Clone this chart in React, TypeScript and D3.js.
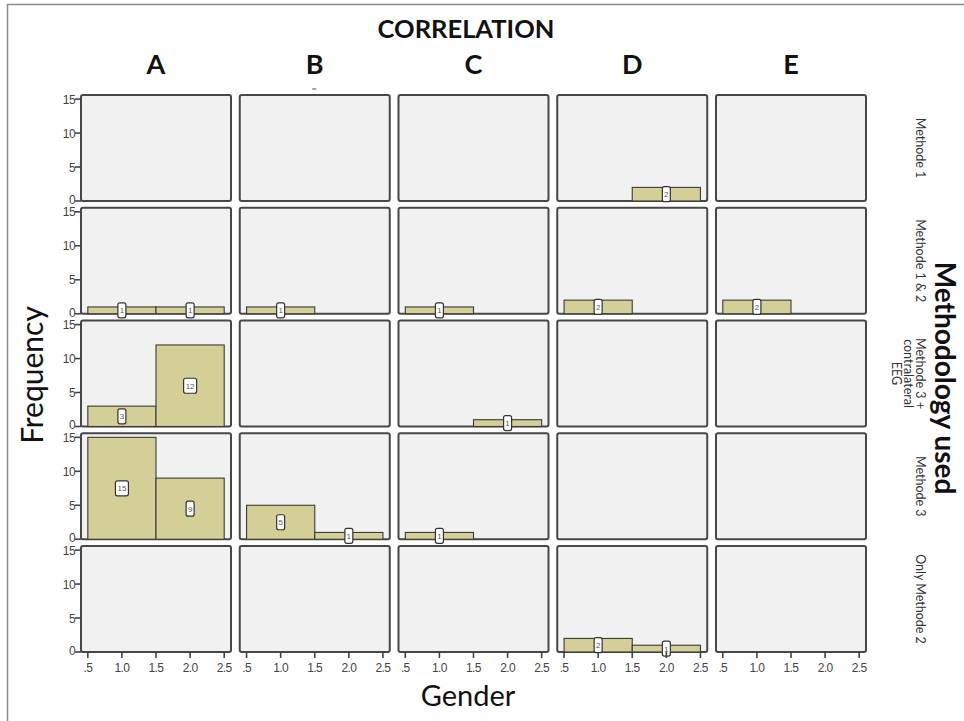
import React from "react";
import * as d3 from "d3";

const columns = ["A", "B", "C", "D", "E"];
const rows = ["Methode 1", "Methode 1 & 2", "Methode 3 + contralateral EEG", "Methode 3", "Only Methode 2"];
const rowLabelLines = [["Methode 1"], ["Methode 1 & 2"], ["Methode 3 +", "contralateral", "EEG"], ["Methode 3"], ["Only Methode 2"]];
const genderBins = [1, 2];
// counts[row][col] = [gender 1, gender 2]
const countsMethode1 = [[0, 0], [0, 0], [0, 0], [0, 2], [0, 0]];
const countsMethode12 = [[1, 1], [1, 0], [1, 0], [2, 0], [2, 0]];
const countsMethode3EEG = [[3, 12], [0, 0], [0, 1], [0, 0], [0, 0]];
const countsMethode3 = [[15, 9], [5, 1], [1, 0], [0, 0], [0, 0]];
const countsOnly2 = [[0, 0], [0, 0], [0, 0], [2, 1], [0, 0]];
const counts = [countsMethode1, countsMethode12, countsMethode3EEG, countsMethode3, countsOnly2];
const yTicks = [0, 5, 10, 15];
const xTicks = [0.5, 1.0, 1.5, 2.0, 2.5];
const xTickLabels = [".5", "1.0", "1.5", "2.0", "2.5"];

const W = 964;
const H = 721;
const titleFont = "Lato, 'Open Sans', sans-serif";
const axisFont = "'Liberation Sans', Arial, sans-serif";

export default function App() {
  const colScale = d3.scaleBand<string>().domain(columns).range([81, 866]).paddingInner(0.055);
  const rowScale = d3.scaleBand<string>().domain(rows).range([95, 652]).paddingInner(0.06);
  const bw = colScale.bandwidth();
  const bh = rowScale.bandwidth();

  return (
    <svg width={W} height={H} style={{ position: "absolute", left: 0, top: 0, background: "#fff" }}>
      <rect x={0} y={0} width={W} height={H} fill="#fff" />
      <path d={`M7.5,${H} V4.5 H${W}`} fill="none" stroke="#8a8a8a" strokeWidth={1.5} />
      <text x={466} y={38} textAnchor="middle" fontFamily={titleFont} fontWeight={700} fontSize={25.5} fill="#111">
        CORRELATION
      </text>
      {columns.map((c) => (
        <text key={c} x={colScale(c)! + bw / 2} y={74} textAnchor="middle" fontFamily={titleFont} fontWeight={700} fontSize={27} fill="#111">
          {c}
        </text>
      ))}
      <line x1={colScale("B")! + bw / 2 - 2.5} x2={colScale("B")! + bw / 2 + 1.5} y1={89} y2={89} stroke="#666" strokeWidth={1.2} />
      <text transform={`translate(43,${375}) rotate(-90)`} textAnchor="middle" fontFamily={titleFont} fontSize={30} fill="#111">
        Frequency
      </text>
      <text x={468} y={706} textAnchor="middle" fontFamily={titleFont} fontSize={29} fill="#111">
        Gender
      </text>
      <text transform={`translate(935,${378}) rotate(90)`} textAnchor="middle" fontFamily={titleFont} fontWeight={700} fontSize={28} fill="#111">
        Methodology used
      </text>
      {rows.map((r, ri) => {
        const cy = rowScale(r)! + bh / 2;
        const lines = rowLabelLines[ri];
        return (
          <g key={r} transform={`translate(916,${cy}) rotate(90)`}>
            {lines.map((ln, li) => (
              <text key={li} x={0} y={li * 12} textAnchor="middle" fontFamily={titleFont} fontSize={12.5} fill="#333">
                {ln}
              </text>
            ))}
          </g>
        );
      })}
      {rows.map((r, ri) =>
        columns.map((c, ci) => {
          const x0 = colScale(c)!;
          const y0 = rowScale(r)!;
          const x = d3.scaleLinear().domain([0.4, 2.6]).range([x0, x0 + bw]);
          const y = d3.scaleLinear().domain([0, 15.6]).range([y0 + bh, y0]);
          const vals = counts[ri][ci];
          return (
            <g key={`${r}-${c}`}>
              <rect x={x0} y={y0} width={bw} height={bh} rx={2} fill="#f1f1f1" stroke="#474747" strokeWidth={2} />
              {genderBins.map((g, gi) =>
                vals[gi] > 0 ? (
                  <rect key={g} x={x(g - 0.5)} y={y(vals[gi])} width={x(g + 0.5) - x(g - 0.5)} height={y(0) - y(vals[gi])} fill="#d4cf97" stroke="#3a3a3a" strokeWidth={1.1} />
                ) : null
              )}
              {genderBins.map((g, gi) => {
                if (vals[gi] <= 0) return null;
                const label = String(vals[gi]);
                const boxW = label.length > 1 ? 13 : 8;
                const cyb = (y(vals[gi]) + y(0)) / 2;
                return (
                  <g key={`l${g}`}>
                    <rect x={x(g) - boxW / 2} y={cyb - 7.5} width={boxW} height={15} rx={2} fill="#fff" stroke="#333" strokeWidth={1.2} />
                    <text x={x(g)} y={cyb + 3} textAnchor="middle" fontFamily={axisFont} fontSize={8} fill="#555">
                      {label}
                    </text>
                  </g>
                );
              })}
              {ci === 0 &&
                yTicks.map((t) => (
                  <g key={`yt${t}`}>
                    <line x1={x0 - 6} x2={x0} y1={y(t)} y2={y(t)} stroke="#444" strokeWidth={1.6} />
                    <text x={x0 - 6} y={y(t) + (t === 0 ? 3 : 4.5)} textAnchor="end" fontFamily={axisFont} fontSize={12} fill="#444" letterSpacing={-0.6}>
                      {t}
                    </text>
                  </g>
                ))}
              {ri === rows.length - 1 &&
                xTicks.map((t, ti) => (
                  <g key={`xt${t}`}>
                    <line x1={x(t)} x2={x(t)} y1={y0 + bh} y2={y0 + bh + 6} stroke="#444" strokeWidth={1.6} />
                    <text x={x(t)} y={y0 + bh + 20} textAnchor="middle" fontFamily={axisFont} fontSize={12} fill="#444" letterSpacing={-0.6}>
                      {xTickLabels[ti]}
                    </text>
                  </g>
                ))}
            </g>
          );
        })
      )}
    </svg>
  );
}
